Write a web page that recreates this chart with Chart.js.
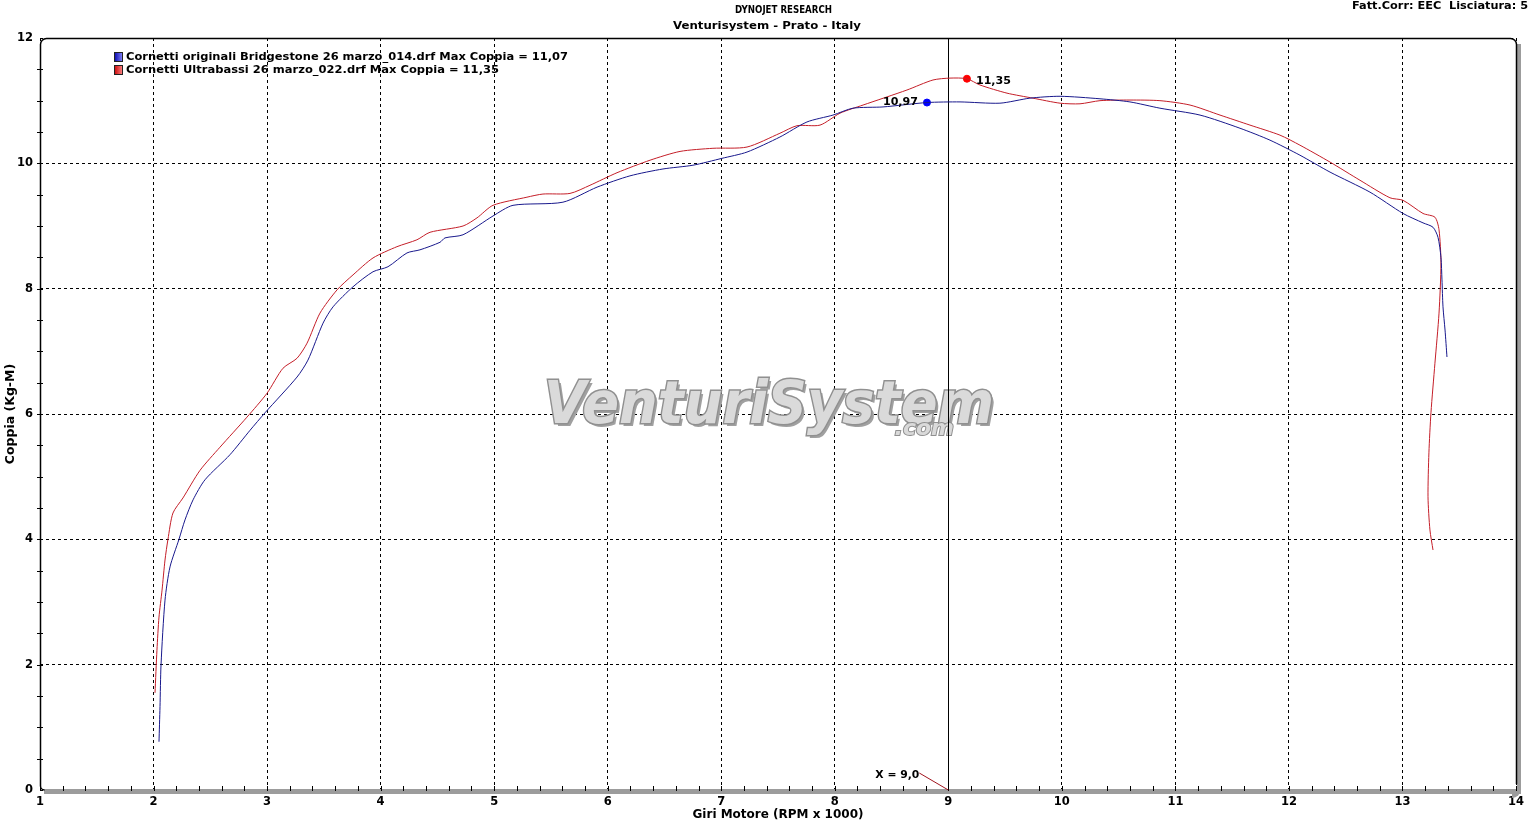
<!DOCTYPE html>
<html>
<head>
<meta charset="utf-8">
<script src="https://cdn.jsdelivr.net/npm/chart.js@4.4.1/dist/chart.umd.min.js"></script>
<style>
  html, body { margin: 0; padding: 0; background: #fff; }
  #wrap { width: 1539px; height: 823px; position: relative; }
</style>
</head>
<body>
<div id="wrap"><canvas id="dyno-chart"></canvas></div>
<script>
// run 1: Cornetti originali Bridgestone (blue)
const rpmOriginali = [2.048, 2.057, 2.066, 2.101, 2.145, 2.224, 2.277, 2.348, 2.453, 2.673, 2.850, 2.982, 3.264, 3.360, 3.493, 3.581, 3.757, 3.933, 4.065, 4.232, 4.347, 4.523, 4.567, 4.726, 4.990, 5.166, 5.606, 5.906, 6.196, 6.487, 6.751, 7.007, 7.227, 7.517, 7.755, 7.984, 8.160, 8.425, 8.812, 9.103, 9.455, 9.719, 9.984, 10.336, 10.600, 10.864, 11.217, 11.569, 11.833, 12.097, 12.362, 12.714, 13.005, 13.181, 13.269, 13.313, 13.339, 13.348, 13.357, 13.375, 13.392]
const coppiaOriginali = [0.77, 1.33, 2.00, 3.03, 3.56, 4.00, 4.31, 4.63, 4.95, 5.35, 5.74, 6.02, 6.59, 6.86, 7.45, 7.71, 8.03, 8.27, 8.35, 8.57, 8.62, 8.74, 8.81, 8.86, 9.16, 9.33, 9.38, 9.62, 9.80, 9.91, 9.97, 10.08, 10.18, 10.42, 10.66, 10.77, 10.88, 10.90, 10.97, 10.98, 10.96, 11.04, 11.07, 11.03, 10.98, 10.88, 10.77, 10.56, 10.37, 10.13, 9.86, 9.54, 9.20, 9.05, 8.98, 8.82, 8.50, 8.14, 7.71, 7.34, 6.91]

// run 2: Cornetti Ultrabassi (red)
const rpmUltrabassi = [2.013, 2.030, 2.048, 2.075, 2.101, 2.127, 2.171, 2.259, 2.409, 2.585, 2.823, 2.999, 3.140, 3.264, 3.352, 3.466, 3.616, 3.757, 3.933, 4.144, 4.320, 4.435, 4.726, 4.849, 4.990, 5.289, 5.430, 5.668, 5.844, 6.082, 6.373, 6.637, 6.927, 7.227, 7.517, 7.667, 7.870, 8.046, 8.249, 8.636, 8.865, 9.015, 9.164, 9.279, 9.517, 9.746, 9.984, 10.160, 10.336, 10.600, 10.864, 11.129, 11.393, 11.657, 11.921, 12.097, 12.362, 12.626, 12.890, 13.005, 13.181, 13.286, 13.322, 13.339, 13.322, 13.286, 13.251, 13.233, 13.225, 13.242, 13.269]
const coppiaUltrabassi = [1.55, 2.23, 2.76, 3.19, 3.67, 4.00, 4.42, 4.66, 5.10, 5.47, 5.95, 6.33, 6.73, 6.89, 7.13, 7.61, 7.98, 8.22, 8.49, 8.67, 8.78, 8.90, 9.00, 9.13, 9.33, 9.46, 9.51, 9.52, 9.65, 9.85, 10.05, 10.19, 10.24, 10.26, 10.48, 10.60, 10.61, 10.80, 10.93, 11.17, 11.33, 11.36, 11.35, 11.25, 11.12, 11.04, 10.96, 10.95, 11.00, 11.01, 11.00, 10.93, 10.77, 10.61, 10.45, 10.29, 10.02, 9.73, 9.45, 9.41, 9.20, 9.14, 8.94, 8.41, 7.61, 6.81, 6.02, 5.38, 4.68, 4.15, 3.83]

const seriesNames = ['Cornetti originali Bridgestone 26 marzo_014.drf', 'Cornetti Ultrabassi 26 marzo_022.drf']
const maxCoppia = ['11,07', '11,35']
const seriesColors = ['rgb(24, 24, 140)', 'rgb(196, 30, 40)']
const markerColors = ['rgb(0, 0, 255)', 'rgb(255, 0, 0)']

// cursor readout
const cursorRpm = 9.0
const cursorLabel = 'X = 9,0'
const markerRpm = [8.812, 9.164]
const markerCoppia = [10.97, 11.35]
const markerLabels = ['10,97', '11,35']

const xTicks = [1, 2, 3, 4, 5, 6, 7, 8, 9, 10, 11, 12, 13, 14]
const yTicks = [0, 2, 4, 6, 8, 10, 12]

const titleLines = ['DYNOJET RESEARCH', 'Venturisystem - Prato - Italy']
const cornerText = 'Fatt.Corr: EEC  Lisciatura: 5'
const xTitle = 'Giri Motore (RPM x 1000)'
const yTitle = 'Coppia (Kg-M)'

const FONT = '"DejaVu Sans", sans-serif'

const toPoints = (xs, ys) => xs.map((x, i) => ({ x: x, y: ys[i] }))

// draws text squeezed/stretched to a given width, left edge at x
const fitText = (ctx, text, x, y, width) => {
  const w = ctx.measureText(text).width
  ctx.save()
  ctx.translate(x, y)
  ctx.scale(width / w, 1)
  ctx.textAlign = 'left'
  ctx.fillText(text, 0, 0)
  ctx.restore()
}

// grid is drawn by chart.js, the frame with its shadow and the minor ticks here
const framePlugin = {
  id: 'frame',
  beforeDatasetsDraw(chart) {
    const { ctx, chartArea: a, scales } = chart
    const x = scales.x, y = scales.y
    ctx.save()

    // watermark
    ctx.save()
    const wx = x.getPixelForValue(5.44), wy = y.getPixelForValue(6.1)
    ctx.font = 'italic bold 58px ' + FONT
    ctx.textBaseline = 'middle'
    const word = 'VenturiSystem'
    const w = ctx.measureText(word).width
    ctx.translate(wx, wy)
    ctx.scale(450 / w, 1)
    ctx.fillStyle = '#a0a0a0'
    ctx.fillText(word, 3, 3)
    ctx.lineWidth = 3
    ctx.strokeStyle = '#909090'
    ctx.strokeText(word, 0, 0)
    ctx.fillStyle = '#dadada'
    ctx.fillText(word, 0, 0)
    ctx.restore()
    ctx.save()
    ctx.font = 'italic bold 22px ' + FONT
    ctx.textAlign = 'right'
    ctx.textBaseline = 'middle'
    ctx.lineWidth = 2
    ctx.strokeStyle = '#909090'
    ctx.strokeText('.com', x.getPixelForValue(9.05), y.getPixelForValue(5.75))
    ctx.fillStyle = '#dadada'
    ctx.fillText('.com', x.getPixelForValue(9.05), y.getPixelForValue(5.75))
    ctx.restore()

    // cursor line
    const cx = Math.round(x.getPixelForValue(cursorRpm)) + 0.5
    ctx.strokeStyle = '#000'
    ctx.lineWidth = 1
    ctx.beginPath()
    ctx.moveTo(cx, a.top)
    ctx.lineTo(cx, a.bottom)
    ctx.stroke()

    // shadow on the right, grey bar at the bottom
    ctx.fillStyle = '#9c9c9c'
    ctx.fillRect(a.right + 1, a.top + 6, 4, a.bottom - a.top - 4)
    ctx.fillRect(a.left + 4, a.bottom - 1, a.right - a.left + 1, 5)
    ctx.beginPath()
    ctx.arc(a.right - 4, a.bottom - 1, 9, 0, Math.PI / 2)
    ctx.lineTo(a.right - 4, a.bottom - 1)
    ctx.fill()

    // black frame: left, top, right
    const r = 6
    const L = a.left + 0.5, T = a.top + 0.5, R = a.right + 0.5, B = a.bottom
    ctx.strokeStyle = '#000'
    ctx.lineWidth = 1.5
    ctx.beginPath()
    ctx.moveTo(L + 4, B)
    ctx.arcTo(L, B, L, B - 4, 4)
    ctx.lineTo(L, T + r)
    ctx.arcTo(L, T, L + r, T, r)
    ctx.lineTo(R - r, T)
    ctx.arcTo(R, T, R, T + r, r)
    ctx.lineTo(R, B - 6)
    ctx.stroke()

    // minor ticks
    ctx.lineWidth = 1
    ctx.beginPath()
    for (let v = xTicks[0]; v <= xTicks[xTicks.length - 1] + 1e-6; v += 0.2) {
      const px = Math.round(x.getPixelForValue(v)) + 0.5
      ctx.moveTo(px, a.bottom - 4)
      ctx.lineTo(px, a.bottom + 1)
    }
    for (let v = yTicks[0] + 0.5; v < yTicks[yTicks.length - 1]; v += 0.5) {
      const py = Math.round(y.getPixelForValue(v)) + 0.5
      ctx.moveTo(a.left - 3, py)
      ctx.lineTo(a.left + 3, py)
    }
    ctx.stroke()
    ctx.restore()
  },
  afterDraw(chart) {
    const { ctx, chartArea: a, scales } = chart
    const x = scales.x, y = scales.y
    ctx.save()
    ctx.fillStyle = '#000'
    ctx.textBaseline = 'middle'

    // titles
    ctx.font = 'bold 10px ' + FONT
    fitText(ctx, titleLines[0], 735, 10, 97)
    ctx.font = 'bold 11px ' + FONT
    fitText(ctx, titleLines[1], 673, 26, 188)
    fitText(ctx, cornerText, 1352, 6, 176)

    // legend
    seriesNames.forEach((name, i) => {
      const ly = 57 + i * 13
      const g = ctx.createLinearGradient(114, 0, 123, 0)
      g.addColorStop(0, i ? 'rgb(200,0,0)' : 'rgb(0,0,170)')
      g.addColorStop(1, i ? 'rgb(255,140,140)' : 'rgb(140,140,255)')
      ctx.fillStyle = g
      ctx.fillRect(114, ly - 5, 9, 10)
      ctx.strokeStyle = '#222'
      ctx.lineWidth = 1
      ctx.strokeRect(114.5, ly - 4.5, 8, 9)
      ctx.fillStyle = '#000'
      fitText(ctx, name + ' Max Coppia = ' + maxCoppia[i], 126, ly, i ? 373 : 442)
    })

    // marker readouts
    const bx = x.getPixelForValue(markerRpm[0]), by = y.getPixelForValue(markerCoppia[0])
    fitText(ctx, markerLabels[0], bx - 44, by, 35)
    const rx = x.getPixelForValue(markerRpm[1]), ry = y.getPixelForValue(markerCoppia[1])
    fitText(ctx, markerLabels[1], rx + 9, ry + 2, 35)

    // cursor readout
    const cx = x.getPixelForValue(cursorRpm)
    fitText(ctx, cursorLabel, cx - 73, a.bottom - 15, 44)
    ctx.strokeStyle = 'rgb(160, 20, 30)'
    ctx.lineWidth = 1
    ctx.beginPath()
    ctx.moveTo(cx - 29, a.bottom - 17)
    ctx.lineTo(cx, a.bottom)
    ctx.stroke()
    ctx.restore()
  }
}

const dynoChart = () => {
  const options = {
    type: 'scatter',
    data: {
      datasets: [
        {
          label: seriesNames[0],
          data: toPoints(rpmOriginali, coppiaOriginali),
          showLine: true,
          borderColor: seriesColors[0],
          borderWidth: 1,
          pointRadius: 0,
          tension: 0.25
        },
        {
          label: seriesNames[1],
          data: toPoints(rpmUltrabassi, coppiaUltrabassi),
          showLine: true,
          borderColor: seriesColors[1],
          borderWidth: 1,
          pointRadius: 0,
          tension: 0.25
        },
        {
          label: 'marker',
          data: [{ x: markerRpm[0], y: markerCoppia[0] }],
          pointRadius: 3.5,
          backgroundColor: markerColors[0],
          borderColor: markerColors[0]
        },
        {
          label: 'marker',
          data: [{ x: markerRpm[1], y: markerCoppia[1] }],
          pointRadius: 3.5,
          backgroundColor: markerColors[1],
          borderColor: markerColors[1]
        }
      ]
    },
    options: {
      responsive: true,
      maintainAspectRatio: false,
      animation: false,
      layout: { padding: { top: 38, right: 23, left: 0, bottom: 0 } },
      plugins: { legend: { display: false }, tooltip: { enabled: false } },
      scales: {
        x: {
          type: 'linear',
          min: xTicks[0],
          max: xTicks[xTicks.length - 1],
          afterBuildTicks: s => { s.ticks = xTicks.map(v => ({ value: v })) },
          afterFit: s => { s.height = 33 },
          grid: { color: '#000', lineWidth: 1, drawTicks: false },
          border: { display: false, dash: [3, 3] },
          ticks: { color: '#000', padding: 5, font: { family: FONT, size: 11.5, weight: 'bold' }, maxRotation: 0 },
          title: { display: true, text: xTitle, color: '#000', padding: { top: 0, bottom: 1 }, font: { family: FONT, size: 12, weight: 'bold' } }
        },
        y: {
          type: 'linear',
          min: yTicks[0],
          max: yTicks[yTicks.length - 1],
          afterBuildTicks: s => { s.ticks = yTicks.map(v => ({ value: v })) },
          afterFit: s => { s.width = 40 },
          grid: { color: '#000', lineWidth: 1, drawTicks: false },
          border: { display: false, dash: [3, 3] },
          ticks: { color: '#000', padding: 7, font: { family: FONT, size: 11.5, weight: 'bold' } },
          title: { display: true, text: yTitle, color: '#000', padding: { top: 3, bottom: 0 }, font: { family: FONT, size: 12.5, weight: 'bold' } }
        }
      }
    },
    plugins: [framePlugin]
  }
  const canvas = document.getElementById('dyno-chart').getContext('2d')
  new Chart(canvas, options)
}

window.onload = () => {
  dynoChart()
}
</script>
</body>
</html>
